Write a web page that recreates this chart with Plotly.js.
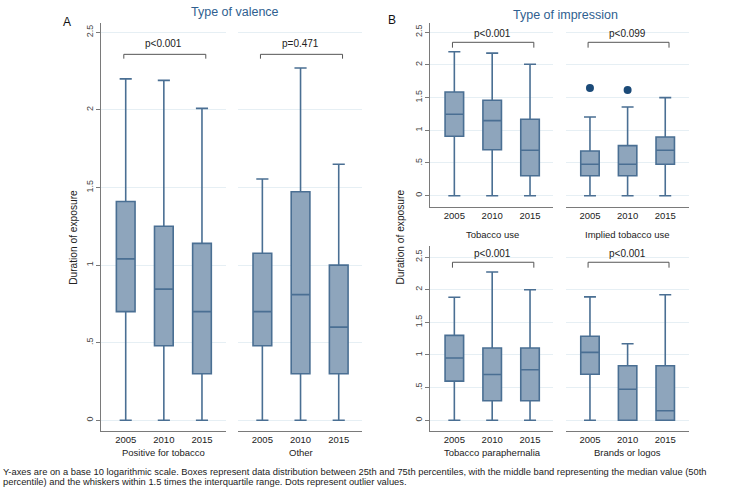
<!DOCTYPE html>
<html>
<head>
<meta charset="utf-8">
<script src="https://cdn.plot.ly/plotly-3.0.1.min.js"></script>
<style>html,body{margin:0;padding:0;background:#fff;}#chart{width:733px;height:492px;}</style>
</head>
<body>
<div id="chart"></div>
<script>
// ---- data ----
const years = ['2005', '2010', '2015'];

const posLow = [0, 0, 0];
const posQ1 = [0.70, 0.48, 0.30];
const posMed = [1.04, 0.845, 0.70];
const posQ3 = [1.41, 1.25, 1.14];
const posHigh = [2.20, 2.19, 2.01];

const otherLow = [0, 0, 0];
const otherQ1 = [0.48, 0.30, 0.30];
const otherMed = [0.70, 0.81, 0.60];
const otherQ3 = [1.076, 1.473, 1.00];
const otherHigh = [1.555, 2.27, 1.65];

const useLow = [0, 0, 0];
const useQ1 = [0.908, 0.703, 0.306];
const useMed = [1.245, 1.147, 0.694];
const useQ3 = [1.586, 1.459, 1.168];
const useHigh = [2.20, 2.18, 2.01];

const implLow = [0, 0, 0];
const implQ1 = [0.306, 0.306, 0.48];
const implMed = [0.48, 0.48, 0.694];
const implQ3 = [0.683, 0.765, 0.898];
const implHigh = [1.203, 1.356, 1.50];
const implOutX = ['2005', '2010'];
const implOutY = [1.647, 1.616];

const paraLow = [0, 0, 0];
const paraQ1 = [0.60, 0.30, 0.30];
const paraMed = [0.954, 0.70, 0.775];
const paraQ3 = [1.30, 1.107, 1.107];
const paraHigh = [1.883, 2.27, 2.00];

const brandLow = [0, 0, 0];
const brandQ1 = [0.704, 0, 0];
const brandMed = [1.04, 0.475, 0.147];
const brandQ3 = [1.286, 0.836, 0.836];
const brandHigh = [1.89, 1.173, 1.923];

const groupLabels = ['Positive for tobacco', 'Other', 'Tobacco use', 'Implied tobacco use', 'Tobacco paraphernalia', 'Brands or logos'];
const pLabels = ['p<0.001', 'p=0.471', 'p<0.001', 'p<0.099', 'p<0.001', 'p<0.001'];
const yTickVals = [0, 0.5, 1, 1.5, 2, 2.5];
const yTickText = ['0', '.5', '1', '1.5', '2', '2.5'];

// ---- styling ----
const FONT = "'Liberation Sans', Arial, sans-serif";
const boxFill = '#8ea5bc';
const boxLine = '#4a6f93';
const gridCol = '#e6eff4';
const axisCol = '#7a7a7a';

const groups = [
  {low: posLow, q1: posQ1, med: posMed, q3: posQ3, high: posHigh, xa: 'x', ya: 'y'},
  {low: otherLow, q1: otherQ1, med: otherMed, q3: otherQ3, high: otherHigh, xa: 'x2', ya: 'y2'},
  {low: useLow, q1: useQ1, med: useMed, q3: useQ3, high: useHigh, xa: 'x3', ya: 'y3'},
  {low: implLow, q1: implQ1, med: implMed, q3: implQ3, high: implHigh, xa: 'x4', ya: 'y4'},
  {low: paraLow, q1: paraQ1, med: paraMed, q3: paraQ3, high: paraHigh, xa: 'x5', ya: 'y5'},
  {low: brandLow, q1: brandQ1, med: brandMed, q3: brandQ3, high: brandHigh, xa: 'x6', ya: 'y6'}
];

const traces = groups.map(g => ({
  type: 'box', x: years,
  q1: g.q1, median: g.med, q3: g.q3, lowerfence: g.low, upperfence: g.high,
  xaxis: g.xa, yaxis: g.ya,
  fillcolor: boxFill, line: {color: boxLine, width: 1.6},
  width: 0.49, whiskerwidth: 0.65, boxpoints: false, showlegend: false, hoverinfo: 'skip'
}));
traces.push({
  type: 'scatter', mode: 'markers', x: implOutX, y: implOutY, xaxis: 'x4', yaxis: 'y4',
  marker: {color: '#1b4a78', size: 8}, showlegend: false, hoverinfo: 'skip'
});

const XR = [-0.64, 2.62];
const xDomains = [[0.1382, 0.3078], [0.3246, 0.4944], [0.5868, 0.7551], [0.7720, 0.9394], [0.5868, 0.7551], [0.7720, 0.9394]];
const yRanges = [[-0.069, 2.562], [-0.069, 2.562], [-0.168, 2.645], [-0.168, 2.645], [-0.164, 2.669], [-0.164, 2.669]];
const yDomains = [[0.124, 0.9539], [0.124, 0.9539], [0.5799, 0.9539], [0.5799, 0.9539], [0.124, 0.5], [0.124, 0.5]];
const labelY = [452, 452, 234, 234, 452, 452];
const bracket = [ // [line y, tick bottom y, text y] in data units
  [2.358, 2.33, 2.43], [2.358, 2.33, 2.43],
  [2.345, 2.263, 2.483], [2.345, 2.263, 2.483],
  [2.42, 2.337, 2.557], [2.42, 2.337, 2.557]
];

const layout = {
  width: 733, height: 492, autosize: false,
  margin: {l: 0, r: 0, t: 0, b: 0},
  paper_bgcolor: '#fff', plot_bgcolor: '#fff',
  font: {family: FONT, size: 9, color: '#222'},
  showlegend: false,
  shapes: [], annotations: []
};

for (let i = 0; i < 6; i++) {
  const xk = i === 0 ? 'xaxis' : 'xaxis' + (i + 1);
  const yk = i === 0 ? 'yaxis' : 'yaxis' + (i + 1);
  const xr = i === 0 ? 'x' : 'x' + (i + 1);
  const yr = i === 0 ? 'y' : 'y' + (i + 1);
  const left = (i % 2 === 0);
  layout[xk] = {
    domain: xDomains[i], range: XR, type: 'category', anchor: yr,
    showline: true, linecolor: axisCol, linewidth: 1, mirror: false,
    showgrid: false, zeroline: false, ticks: '', fixedrange: true,
    tickfont: {size: 9.5, color: '#222'}
  };
  layout[yk] = {
    domain: yDomains[i], range: yRanges[i], anchor: xr,
    showline: left, linecolor: axisCol, linewidth: 1,
    showgrid: true, gridcolor: gridCol, gridwidth: 1, zeroline: false,
    tickmode: 'array', tickvals: yTickVals, ticktext: yTickText,
    showticklabels: left, ticks: left ? 'outside' : '', ticklen: 4, tickcolor: axisCol,
    tickangle: -90, tickfont: {size: 9, color: '#444'}, fixedrange: true
  };
  layout.annotations.push({
    xref: xr, yref: 'paper', x: 1, y: 1 - labelY[i] / 492, text: groupLabels[i],
    showarrow: false, xanchor: 'center', yanchor: 'middle', font: {size: 9.5, color: '#222'}
  });
  const b = bracket[i];
  const bl = -0.05, br = 2.1;
  layout.shapes.push({type: 'line', xref: xr, yref: yr, x0: bl, x1: br, y0: b[0], y1: b[0], line: {color: '#555', width: 1}});
  layout.shapes.push({type: 'line', xref: xr, yref: yr, x0: bl, x1: bl, y0: b[0], y1: b[1], line: {color: '#555', width: 1}});
  layout.shapes.push({type: 'line', xref: xr, yref: yr, x0: br, x1: br, y0: b[0], y1: b[1], line: {color: '#555', width: 1}});
  layout.annotations.push({
    xref: xr, yref: yr, x: 1.0, y: b[2], text: pLabels[i], showarrow: false,
    xanchor: 'center', yanchor: 'middle', font: {size: 10, color: '#222'}
  });
}

const titleCol = '#2f5f90';
const capFont = {family: FONT, size: 9.35, color: '#222'};
layout.annotations.push(
  {xref: 'paper', yref: 'paper', x: 235.5 / 733, y: 1 - 12.5 / 492, text: 'Type of valence', showarrow: false, xanchor: 'center', yanchor: 'middle', font: {size: 12.5, color: titleCol}},
  {xref: 'paper', yref: 'paper', x: 565 / 733, y: 1 - 15 / 492, text: 'Type of impression', showarrow: false, xanchor: 'center', yanchor: 'middle', font: {size: 12.5, color: titleCol}},
  {xref: 'paper', yref: 'paper', x: 66.7 / 733, y: 1 - 21.7 / 492, text: 'A', showarrow: false, xanchor: 'center', yanchor: 'middle', font: {size: 12, color: '#111'}},
  {xref: 'paper', yref: 'paper', x: 391.7 / 733, y: 1 - 20 / 492, text: 'B', showarrow: false, xanchor: 'center', yanchor: 'middle', font: {size: 12, color: '#111'}},
  {xref: 'paper', yref: 'paper', x: 73.3 / 733, y: 1 - 237.5 / 492, text: 'Duration of exposure', textangle: -90, showarrow: false, xanchor: 'center', yanchor: 'middle', font: {size: 10.2, color: '#222'}},
  {xref: 'paper', yref: 'paper', x: 400 / 733, y: 1 - 237.5 / 492, text: 'Duration of exposure', textangle: -90, showarrow: false, xanchor: 'center', yanchor: 'middle', font: {size: 10.2, color: '#222'}},
  {xref: 'paper', yref: 'paper', x: 1 / 733, y: 1 - 472 / 492, text: 'Y-axes are on a base 10 logarithmic scale. Boxes represent data distribution between 25th and 75th percentiles, with the middle band representing the median value (50th', showarrow: false, xanchor: 'left', yanchor: 'middle', font: capFont},
  {xref: 'paper', yref: 'paper', x: 1 / 733, y: 1 - 482 / 492, text: 'percentile) and the whiskers within 1.5 times the interquartile range. Dots represent outlier values.', showarrow: false, xanchor: 'left', yanchor: 'middle', font: capFont}
);

Plotly.newPlot('chart', traces, layout, {displayModeBar: false, staticPlot: true});
</script>
</body>
</html>
